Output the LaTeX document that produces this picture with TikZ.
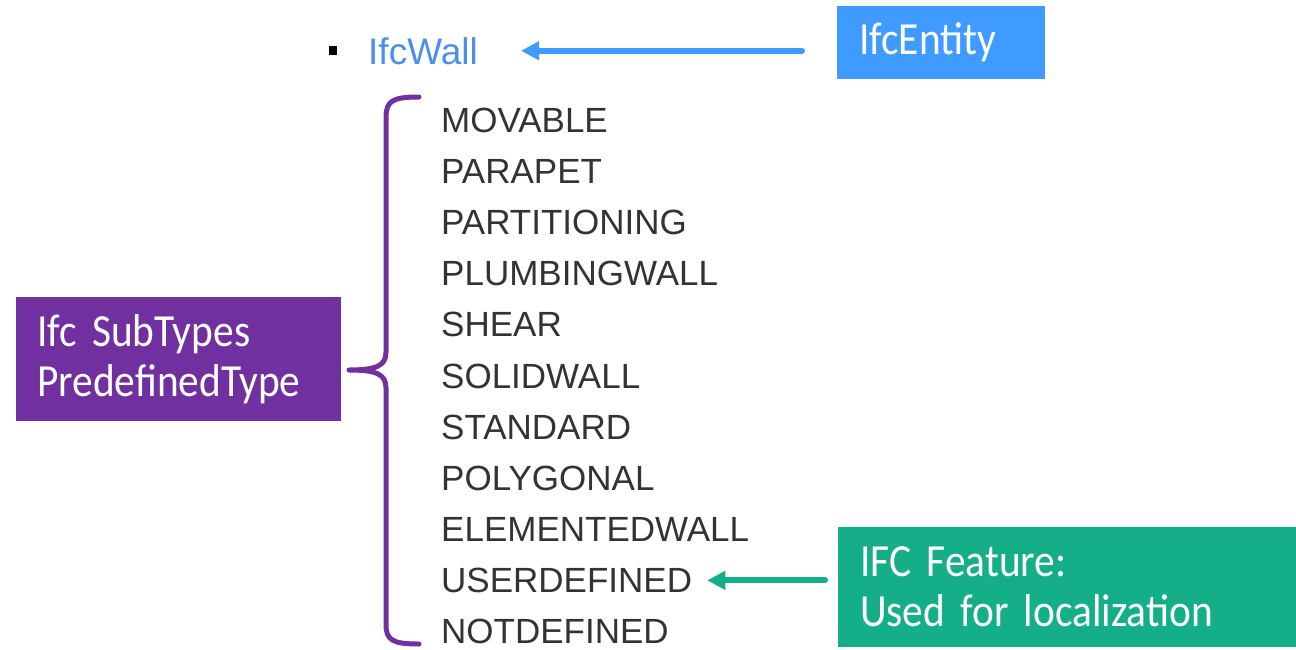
\documentclass[tikz,border=0pt]{standalone}
\usepackage{fontspec}
\setmainfont{Liberation Sans}
\newfontfamily\boxfont[FakeStretch=0.9,WordSpace=0.9]{Carlito}
\usetikzlibrary{arrows.meta,calc}
\definecolor{entityblue}{HTML}{3F9BFF}
\definecolor{wallblue}{HTML}{4B8EEE}
\definecolor{subpurple}{HTML}{7030A0}
\definecolor{featgreen}{HTML}{14AE88}
\definecolor{listgray}{HTML}{333333}
\begin{document}
\begin{tikzpicture}[x=1pt,y=-1pt,
    subtype/.style = {anchor=base west, inner sep=0pt, text=listgray,
                      font=\fontsize{35}{40}\selectfont},
    infobox/.style = {anchor=north west, inner ysep=0pt, align=left,
                      text=white, font=\boxfont\fontsize{46}{50}\selectfont},
    pointer/.style = {line width=6pt, line cap=round,
                      -{Triangle[length=18pt,width=18pt]}}]
    \useasboundingbox (0,0) rectangle (1296,649);
    % entity with its predefined types
    \fill (329,46) rectangle (337,55);
    \node[anchor=base west, inner sep=0pt, text=wallblue,
          font=\fontsize{37}{40}\selectfont] (wall) at (368,64) {IfcWall};
    \foreach \t [count=\i] in {MOVABLE,PARAPET,PARTITIONING,PLUMBINGWALL,SHEAR,
        SOLIDWALL,STANDARD,POLYGONAL,ELEMENTEDWALL,USERDEFINED,NOTDEFINED}
        \node[subtype] (st\i) at (441,{132.5+51.1*(\i-1)}) {\t};
    % callout boxes
    \node[infobox, fill=entityblue, minimum width=208pt, minimum height=73pt,
          inner xsep=22pt, text width=164pt] (entity) at (837,6) {IfcEntity};
    \node[infobox, fill=subpurple, minimum width=325pt, minimum height=124pt,
          inner xsep=21pt, text width=283pt] (subtypes) at (16,297)
          {Ifc SubTypes\\PredefinedType};
    \node[infobox, fill=featgreen, minimum width=458pt, minimum height=120pt,
          inner xsep=22pt, text width=414pt] (feature) at (838,527)
          {IFC Feature:\\Used for localization};
    % connectors
    \draw[pointer, entityblue, shorten <=35pt, shorten >=43pt]
        (wall.east -| entity.west) -- (wall.east);
    \draw[pointer, featgreen, shorten <=13pt, shorten >=15pt]
        (st10.east -| feature.west) -- (st10.east);
    % brace
    \draw[subpurple, line width=5pt, line cap=round, line join=round]
        (419,97) .. controls (392,97) and (386,101) .. (386,118)
        -- (386,352) .. controls (386,366) and (376,370) .. (349,370)
        .. controls (376,370) and (386,374) .. (386,388)
        -- (386,624) .. controls (386,640) and (392,644) .. (419,644);
\end{tikzpicture}
\end{document}
